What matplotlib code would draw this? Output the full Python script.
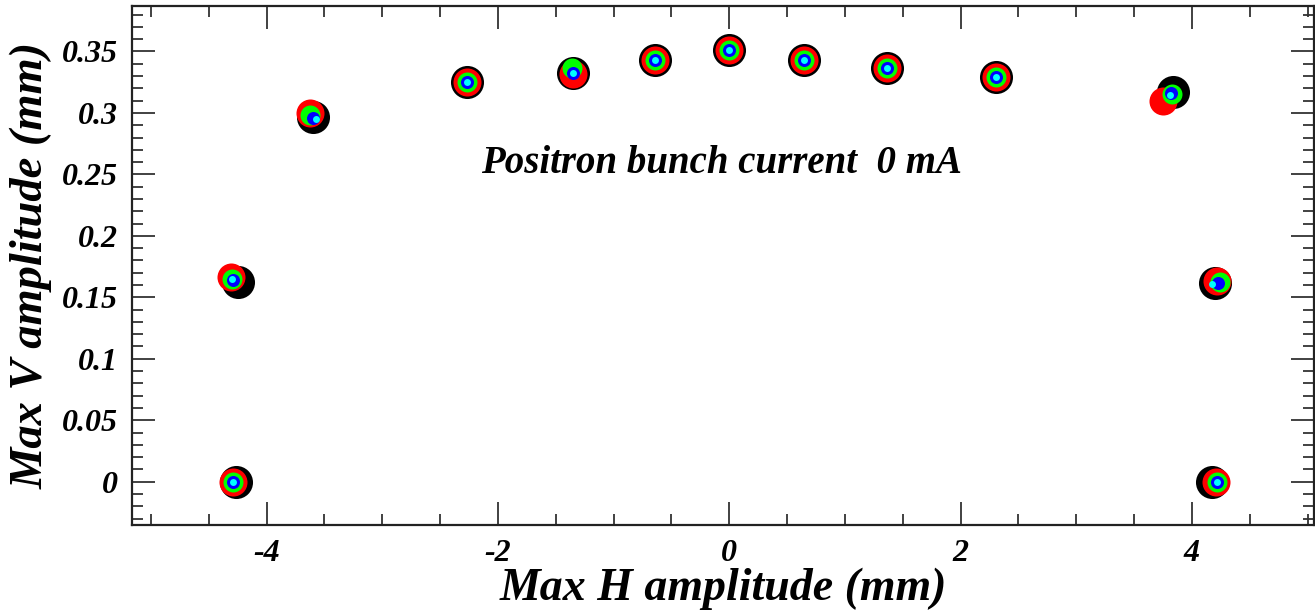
import matplotlib as mpl

mpl.use("Agg")

import matplotlib.pyplot as plt
from matplotlib.ticker import MultipleLocator

# Max H / V amplitude (mm), one list per colour layer (drawn large to small)
x_black = [-4.265, 4.178, -4.250, 4.201, -3.596, -2.269, -1.347, -0.640, 0.000, 0.643, 1.364, 2.307, 3.841]
y_black = [0.0000, 0.0000, 0.1628, 0.1617, 0.2966, 0.3248, 0.3324, 0.3427, 0.3514, 0.3427, 0.3367, 0.3296, 0.3169]

x_red = [-4.293, 4.210, -4.305, 4.219, -3.627, -2.269, -1.347, -0.640, 0.000, 0.643, 1.364, 2.307, 3.752]
y_red = [0.0000, 0.0000, 0.1666, 0.1631, 0.2996, 0.3248, 0.3316, 0.3427, 0.3514, 0.3427, 0.3367, 0.3296, 0.3099]

x_green = [-4.293, 4.218, -4.297, 4.240, -3.624, -2.269, -1.361, -0.640, 0.000, 0.643, 1.364, 2.307, 3.824]
y_green = [0.0000, 0.0000, 0.1648, 0.1626, 0.2982, 0.3248, 0.3365, 0.3427, 0.3514, 0.3427, 0.3367, 0.3296, 0.3158]

x_blue = [-4.293, 4.218, -4.294, 4.224, -3.596, -2.269, -1.347, -0.640, 0.000, 0.643, 1.364, 2.307, 3.818]
y_blue = [0.0000, 0.0000, 0.1643, 0.1615, 0.2958, 0.3248, 0.3329, 0.3427, 0.3514, 0.3427, 0.3367, 0.3296, 0.3161]

x_cyan = [-4.293, 4.218, -4.297, 4.176, -3.575, -2.269, -1.347, -0.640, 0.000, 0.643, 1.364, 2.307, 3.809]
y_cyan = [0.0000, 0.0000, 0.1648, 0.1607, 0.2950, 0.3248, 0.3329, 0.3427, 0.3514, 0.3427, 0.3367, 0.3296, 0.3147]

plt.rcParams["font.family"] = ["Liberation Serif", "DejaVu Serif"]
plt.rcParams["font.weight"] = "bold"
plt.rcParams["font.style"] = "italic"
plt.rcParams["axes.labelweight"] = "bold"

fig = plt.figure(figsize=(13.15, 6.13), dpi=100)
ax = fig.add_axes([0.1004, 0.1436, 0.8992, 0.8466])

layers = [
    (x_black, y_black, "black", 566),
    (x_red, y_red, "#ff0000", 407),
    (x_green, y_green, "#00ff00", 207),
    (x_blue, y_blue, "#0000ff", 88),
    (x_cyan, y_cyan, "#00ffff", 25),
]
for xs, ys, color, size in layers:
    ax.scatter(xs, ys, s=size, color=color, linewidths=0, zorder=3)

ax.set_xlim(-5.164, 5.06)
ax.set_ylim(-0.0352, 0.387)

ax.xaxis.set_major_locator(MultipleLocator(2))
ax.xaxis.set_minor_locator(MultipleLocator(0.5))
ax.yaxis.set_major_locator(MultipleLocator(0.05))
ax.yaxis.set_minor_locator(MultipleLocator(0.01))
ax.xaxis.set_major_formatter(mpl.ticker.FuncFormatter(lambda v, p: f"{v:g}"))
ax.yaxis.set_major_formatter(mpl.ticker.FuncFormatter(lambda v, p: f"{v:g}"))

ax.tick_params(which="both", direction="in", top=True, right=True, width=1.3, color="#333333")
ax.tick_params(which="major", length=16.5, labelsize=23, pad=10)
ax.tick_params(which="minor", length=8)
for spine in ax.spines.values():
    spine.set_linewidth(1.6)
    spine.set_color("#222222")

ax.set_xlabel("Max H amplitude (mm)", fontsize=33, fontweight="bold", labelpad=0)
ax.set_ylabel("Max V amplitude (mm)", fontsize=33.5, fontweight="bold", labelpad=7)

ax.text(-0.065, 0.259, "Positron bunch current  0 mA", fontsize=28,
        fontweight="bold", ha="center", va="center")

fig.savefig("out.png", dpi=100)
